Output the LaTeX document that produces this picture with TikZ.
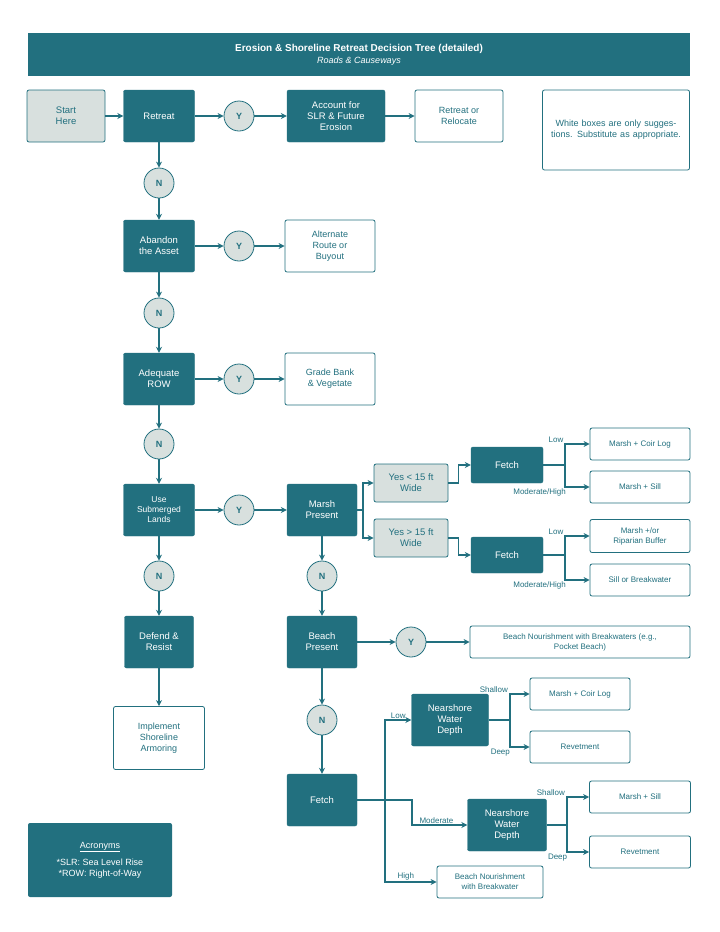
\documentclass[tikz,border=0pt]{standalone}
\usepackage{fontspec}
\setmainfont{Liberation Sans}
\usetikzlibrary{arrows.meta,positioning}
\definecolor{teal1}{HTML}{22707F}
\definecolor{gray1}{HTML}{D8E0DE}

\tikzset{
  dec/.style={fill=teal1, text=white, rectangle, rounded corners=2pt, draw=teal1,
    minimum width=71pt, minimum height=52pt, align=center, font=\fontsize{9.5}{11}\selectfont},
  res/.style={fill=white, text=teal1, rectangle, rounded corners=2pt, draw=teal1, thick,
    minimum height=32pt, align=center, font=\fontsize{9}{11}\selectfont},
  opt/.style={fill=gray1, text=teal1, rectangle, rounded corners=2pt, draw=teal1, thick,
    minimum width=74pt, minimum height=38pt, align=center, font=\fontsize{9.5}{11}\selectfont},
  yn/.style={fill=gray1, text=teal1, circle, draw=teal1, thick, minimum size=30pt,
    inner sep=0pt, font=\bfseries\fontsize{9}{10}\selectfont},
  arr/.style={draw=teal1, line width=1.6pt, -{Stealth[length=6pt,width=6pt]}},
  ln/.style={draw=teal1, line width=1.6pt},
  lbl/.style={text=teal1, font=\fontsize{8}{9}\selectfont, inner sep=1pt}
}

\begin{document}
\begin{tikzpicture}[x=1pt, y=-1pt]
\useasboundingbox (0,0) rectangle (720,932);

% header
\node[fill=teal1, text=white, minimum width=662pt, minimum height=43pt, align=center] (title) at (359,54.5)
  {\bfseries\fontsize{10}{13}\selectfont Erosion \& Shoreline Retreat Decision Tree (detailed)\\
   \itshape\fontsize{9}{11}\selectfont Roads \& Causeways};

% first row
\node[opt, minimum width=78pt, minimum height=52pt] (start) at (66,116) {Start\\Here};
\node[dec] (retreat) at (159,116) {Retreat};
\node[yn] (y1) at (239,116) {Y};
\node[dec, minimum width=98pt] (account) at (336,116) {Account for\\SLR \& Future\\Erosion};
\node[res, minimum width=88pt, minimum height=52pt] (relocate) at (459,116) {Retreat or\\Relocate};
\node[res, minimum width=147pt, minimum height=80pt, text width=130pt] (note) at (616,130)
  {White boxes are only suggestions. Substitute as appropriate.};
\draw[arr] (start) -- (retreat);
\draw[arr] (retreat) -- (y1);
\draw[arr] (y1) -- (account);
\draw[arr] (account) -- (relocate);

% abandon
\node[yn] (n1) at (159,183) {N};
\node[dec] (abandon) at (159,246) {Abandon\\the Asset};
\node[yn] (y2) at (239,246) {Y};
\node[res, minimum width=90pt, minimum height=52pt] (alt) at (330,246) {Alternate\\Route or\\Buyout};
\draw[arr] (retreat) -- (n1);
\draw[arr] (n1) -- (abandon);
\draw[arr] (abandon) -- (y2);
\draw[arr] (y2) -- (alt);

% row
\node[yn] (n2) at (159,313) {N};
\node[dec] (row) at (159,379) {Adequate\\ROW};
\node[yn] (y3) at (239,379) {Y};
\node[res, minimum width=90pt, minimum height=52pt] (grade) at (330,379) {Grade Bank\\\& Vegetate};
\draw[arr] (abandon) -- (n2);
\draw[arr] (n2) -- (row);
\draw[arr] (row) -- (y3);
\draw[arr] (y3) -- (grade);

% submerged lands
\node[yn] (n3) at (159,444) {N};
\node[dec, font=\fontsize{8.5}{10}\selectfont] (sub) at (159,510) {Use\\Submerged\\Lands};
\node[yn] (y4) at (239,510) {Y};
\node[dec, minimum width=70pt] (marsh) at (322,510) {Marsh\\Present};
\draw[arr] (row) -- (n3);
\draw[arr] (n3) -- (sub);
\draw[arr] (sub) -- (y4);
\draw[arr] (y4) -- (marsh);

% marsh branch
\node[opt] (narrow) at (411,483) {Yes < 15 ft\\Wide};
\node[opt] (wide) at (411,538) {Yes > 15 ft\\Wide};
\node[dec, minimum width=72pt, minimum height=36pt] (fetcha) at (507,465) {Fetch};
\node[dec, minimum width=72pt, minimum height=36pt] (fetchb) at (507,555) {Fetch};
\node[res, minimum width=100pt, font=\fontsize{8}{10}\selectfont] (coira) at (640,444) {Marsh + Coir Log};
\node[res, minimum width=100pt, font=\fontsize{8}{10}\selectfont] (silla) at (640,487) {Marsh + Sill};
\node[res, minimum width=100pt, minimum height=33pt, font=\fontsize{8}{10}\selectfont] (ripar) at (640,536) {Marsh +/or\\Riparian Buffer};
\node[res, minimum width=100pt, font=\fontsize{8}{10}\selectfont] (brkw) at (640,580) {Sill or Breakwater};
\draw[ln] (marsh.east) -- ++(6,0) coordinate (sm);
\draw[arr] (sm) |- (narrow);
\draw[arr] (sm) |- (wide);
\draw[arr] (narrow.east) -- ++(10,0) |- (fetcha);
\draw[arr] (wide.east) -- ++(10,0) |- (fetchb);
\draw[ln] (fetcha.east) -- ++(22,0) coordinate (sa);
\draw[arr] (sa) |- (coira) node[lbl, pos=0.5, above left] {Low};
\draw[arr] (sa) |- (silla) node[lbl, pos=0.55, below left] {Moderate/High};
\draw[ln] (fetchb.east) -- ++(22,0) coordinate (sb);
\draw[arr] (sb) |- (ripar) node[lbl, pos=0.5, above left] {Low};
\draw[arr] (sb) |- (brkw) node[lbl, pos=0.55, below left] {Moderate/High};

% defend
\node[yn] (n4) at (159,576) {N};
\node[dec, minimum width=69pt] (defend) at (159,642) {Defend \&\\Resist};
\node[res, minimum width=91pt, minimum height=63pt] (armor) at (159,738) {Implement\\Shoreline\\Armoring};
\draw[arr] (sub) -- (n4);
\draw[arr] (n4) -- (defend);
\draw[arr] (defend) -- (armor);

% beach
\node[yn] (n5) at (322,576) {N};
\node[dec, minimum width=70pt] (beach) at (322,642) {Beach\\Present};
\node[yn] (y5) at (411,642) {Y};
\node[res, minimum width=220pt, font=\fontsize{8}{10}\selectfont] (nourish) at (580,642)
  {Beach Nourishment with Breakwaters (e.g.,\\Pocket Beach)};
\draw[arr] (marsh) -- (n5);
\draw[arr] (n5) -- (beach);
\draw[arr] (beach) -- (y5);
\draw[arr] (y5) -- (nourish);

% fetch bottom
\node[yn] (n6) at (322,720) {N};
\node[dec, minimum width=70pt] (fetchc) at (322,800) {Fetch};
\node[dec, minimum width=77pt] (depa) at (450,720) {Nearshore\\Water\\Depth};
\node[dec, minimum width=79pt] (depb) at (507,825) {Nearshore\\Water\\Depth};
\node[res, minimum width=100pt, font=\fontsize{8}{10}\selectfont] (coirb) at (580,694) {Marsh + Coir Log};
\node[res, minimum width=100pt, font=\fontsize{8}{10}\selectfont] (reva) at (580,747) {Revetment};
\node[res, minimum width=101pt, font=\fontsize{8}{10}\selectfont] (sillb) at (640,797) {Marsh + Sill};
\node[res, minimum width=101pt, font=\fontsize{8}{10}\selectfont] (revb) at (640,852) {Revetment};
\node[res, minimum width=106pt, font=\fontsize{8}{10}\selectfont] (bnbw) at (490,882) {Beach Nourishment\\with Breakwater};
\draw[arr] (beach) -- (n6);
\draw[arr] (n6) -- (fetchc);
\draw[ln] (fetchc.east) -- ++(28,0) coordinate (sc);
\draw[arr] (sc) |- (depa) node[lbl, pos=0.75, above] {Low};
\draw[arr] (sc) |- (bnbw) node[lbl, pos=0.7, above] {High};
\draw[arr] (sc) -- ++(27,0) |- (depb) node[lbl, pos=0.72, above] {Moderate};
\draw[ln] (depa.east) -- ++(21,0) coordinate (sd);
\draw[arr] (sd) |- (coirb) node[lbl, pos=0.5, above left] {Shallow};
\draw[arr] (sd) |- (reva) node[lbl, pos=0.55, below left] {Deep};
\draw[ln] (depb.east) -- ++(20,0) coordinate (se);
\draw[arr] (se) |- (sillb) node[lbl, pos=0.5, above left] {Shallow};
\draw[arr] (se) |- (revb) node[lbl, pos=0.55, below left] {Deep};

% acronyms
\node[fill=teal1, text=white, rounded corners=2pt, minimum width=144pt, minimum height=74pt,
  align=center, font=\fontsize{9}{11}\selectfont] (acro) at (100,860)
  {\underline{Acronyms}\\[6pt]*SLR: Sea Level Rise\\*ROW: Right-of-Way};
\end{tikzpicture}
\end{document}
